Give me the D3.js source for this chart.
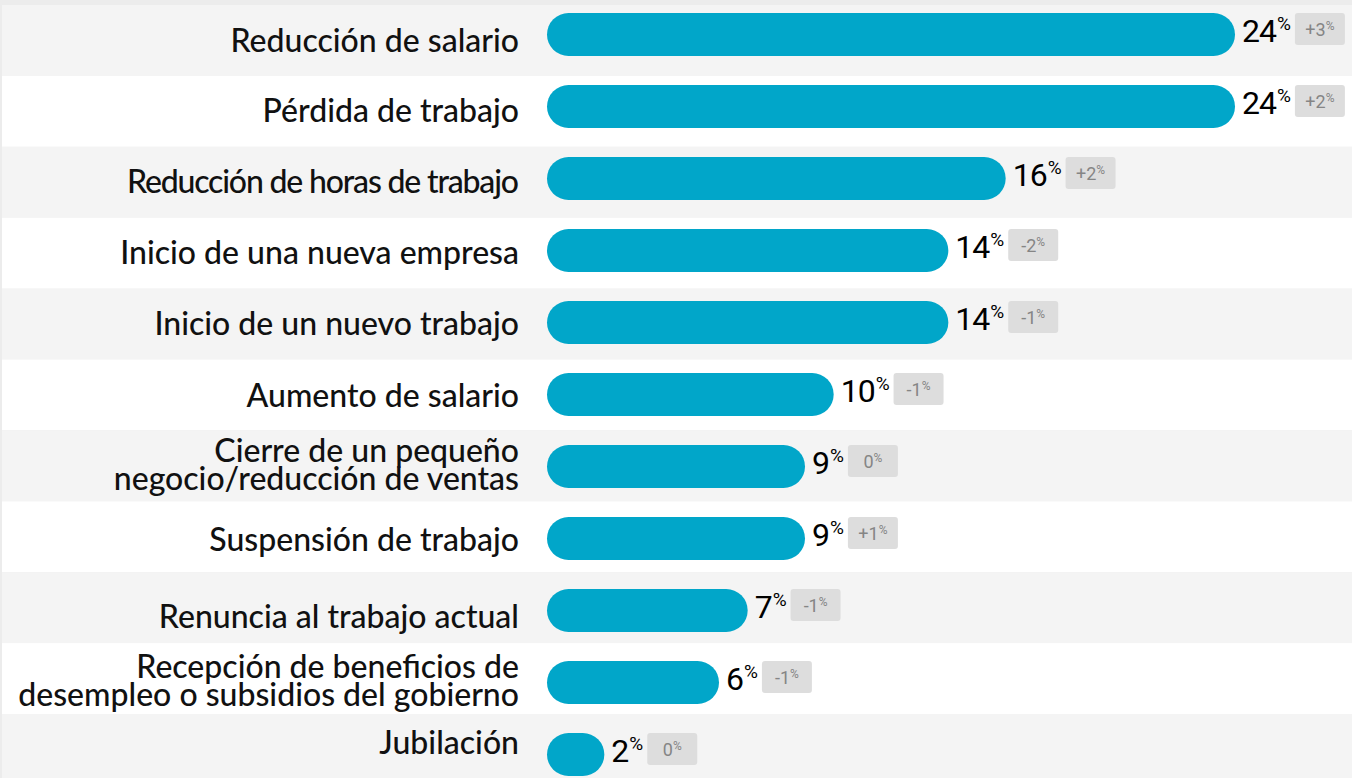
<html>
<head>
<meta charset="utf-8">
<style>
  body { margin: 0; background: #ececec; overflow: hidden; }
</style>
</head>
<body>
<svg id="chart" width="1352" height="778"></svg>
<script src="https://cdn.jsdelivr.net/npm/d3@7"></script>
<script>
// data
const categories = [
  "Reducción de salario",
  "Pérdida de trabajo",
  "Reducción de horas de trabajo",
  "Inicio de una nueva empresa",
  "Inicio de un nuevo trabajo",
  "Aumento de salario",
  "Cierre de un pequeño\nnegocio/reducción de ventas",
  "Suspensión de trabajo",
  "Renuncia al trabajo actual",
  "Recepción de beneficios de\ndesempleo o subsidios del gobierno",
  "Jubilación"
]
const shares = [24, 24, 16, 14, 14, 10, 9, 9, 7, 6, 2]
const changes = [3, 2, 2, -2, -1, -1, 0, 1, -1, -1, 0]

// small vertical nudges of the row labels (layout only)
const labelNudge = [1, 0, 0, 0, 0, 1, 0, 4, 10, 3, -6]

const svg = d3.select("#chart")
const n = categories.length

let rowY = d3.scaleLinear().domain([0, n]).range([5, 5 + n * 70.9])   // background stripes
let barY = d3.scaleLinear().domain([0, n - 1]).range([13, 733])       // bar tops
let x = d3.scaleLinear().domain([0, 24]).range([0, 688])
const barX = 547, barH = 43

// stripes
svg.selectAll("rect.row")
  .data(categories)
  .enter().append("rect")
  .attr("class", "row")
  .attr("x", 2)
  .attr("y", (d, i) => rowY(i))
  .attr("width", 1350)
  .attr("height", (d, i) => rowY(i + 1) - rowY(i))
  .attr("fill", (d, i) => i % 2 == 0 ? "#f4f4f4" : "#ffffff")

// labels on the left
svg.selectAll("text.label")
  .data(categories)
  .enter().append("text")
  .attr("class", "label")
  .attr("text-anchor", "end")
  .style("font-family", "Lato, sans-serif")
  .style("font-weight", 500)
  .style("font-size", "32px")
  .attr("fill", "#111")
  .each(function (d, i) {
    let lines = d.split("\n")
    let first = rowY(i) + 46 - (lines.length - 1) * 14 + labelNudge[i]
    d3.select(this).selectAll("tspan")
      .data(lines)
      .enter().append("tspan")
      .attr("x", 519)
      .attr("y", (l, j) => first + j * 28)
      .text(l => l)
      .each(function () {
        // long single lines are squeezed in the original
        if (lines.length == 1 && this.getComputedTextLength() > 400) {
          d3.select(this).attr("textLength", 392).attr("lengthAdjust", "spacing")
        }
      })
  })

// bars
svg.selectAll("rect.bar")
  .data(shares)
  .enter().append("rect")
  .attr("class", "bar")
  .attr("x", barX)
  .attr("y", (d, i) => barY(i))
  .attr("width", d => x(d))
  .attr("height", barH)
  .attr("rx", barH / 2)
  .attr("fill", "#01a6c9")

// value + change badge
shares.forEach((v, i) => {
  let top = barY(i)
  let g = svg.append("g").style("font-family", "Roboto, sans-serif")
  let num = g.append("text")
    .attr("x", barX + x(v) + 7)
    .attr("y", top + 29)
    .style("font-size", "32px")
    .style("letter-spacing", "-1px")
    .attr("fill", "#000")
    .text(v)
  let nx = barX + x(v) + 7 + num.node().getComputedTextLength() + 1
  let pct = g.append("text")
    .attr("x", nx)
    .attr("y", top + 17)
    .style("font-size", "19px")
    .attr("fill", "#000")
    .text("%")
  let bx = nx + pct.node().getComputedTextLength() + 4

  g.append("rect")
    .attr("x", bx)
    .attr("y", top)
    .attr("width", 50)
    .attr("height", 32)
    .attr("rx", 3)
    .attr("fill", "#dddddd")

  let c = changes[i]
  let ct = (c > 0 ? "+" : "") + c
  let t1 = g.append("text")
    .style("font-size", "18px")
    .attr("fill", "#858585")
    .attr("y", top + 23)
    .text(ct)
  let t2 = g.append("text")
    .style("font-size", "12px")
    .attr("fill", "#858585")
    .attr("y", top + 17)
    .text("%")
  let w1 = t1.node().getComputedTextLength(), w2 = t2.node().getComputedTextLength()
  let sx = bx + 25 - (w1 + w2) / 2
  t1.attr("x", sx)
  t2.attr("x", sx + w1)
})
</script>
</body>
</html>
